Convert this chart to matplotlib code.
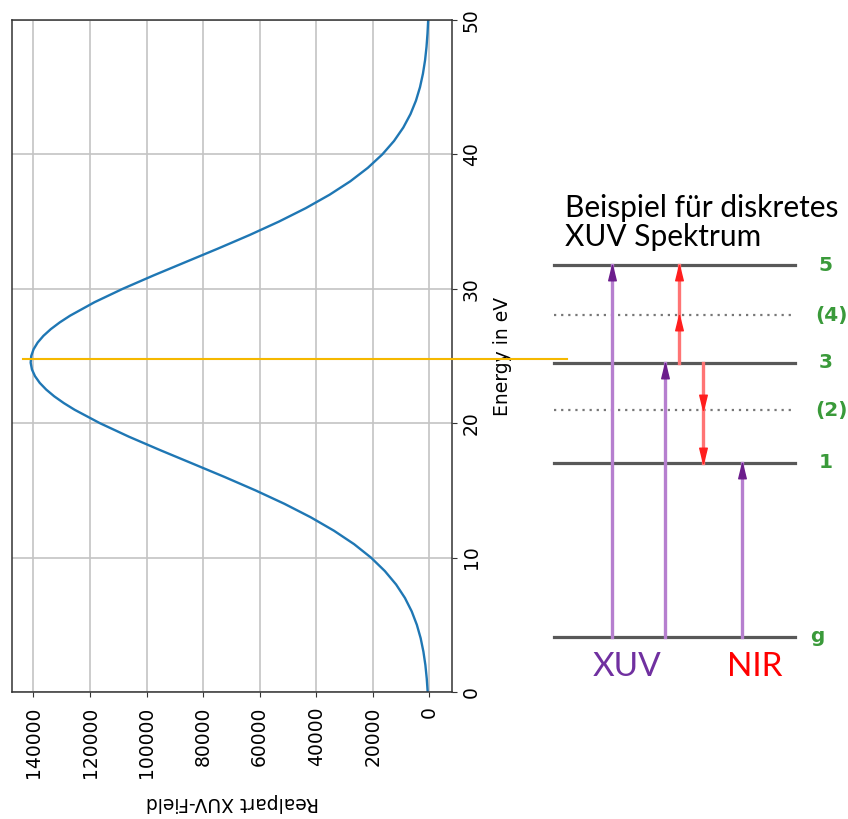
import numpy as np
import matplotlib
matplotlib.use("Agg")
import matplotlib.pyplot as plt
from matplotlib.transforms import blended_transform_factory

# Real part of the XUV field against photon energy (1 eV steps, 0.5 eV near the peak)
energy_ev = [
    0, 1, 2, 3, 4, 5, 6, 7, 8, 9,
    10, 11, 12, 13, 14, 15, 16, 17, 18, 19,
    20, 21, 21.5, 22, 22.5, 23, 23.5, 24, 24.5, 25,
    25.5, 26, 26.5, 27, 27.5, 28, 29,
    30, 31, 32, 33, 34, 35, 36, 37, 38, 39,
    40, 41, 42, 43, 44, 45, 46, 47, 48, 49,
    50,
]
field_real = [
    600, 930, 1410, 2110, 3080, 4430, 6250, 8650, 11770, 15750,
    20650, 26620, 33740, 41960, 51240, 61480, 72430, 83810, 95250, 106300,
    116500, 125460, 129300, 132670, 135500, 137790, 139470, 140550, 141000, 140800,
    139970, 138530, 136490, 133870, 130710, 127060, 118440,
    108430, 97490, 86090, 74670, 63600, 53210, 43720, 35290, 27960, 21770,
    16640, 12500, 9220, 6680, 4750, 3320, 2280, 1530, 1015, 660,
    420,
]
field_ticks = [0, 20000, 40000, 60000, 80000, 100000, 120000, 140000]
energy_ticks = [0, 10, 20, 30, 40, 50]
marker_energy = 24.8

# Level scheme drawn on the same energy scale
level_names = ["g", "1", "(2)", "3", "(4)", "5"]
level_energy = [4.1, 17.06, 20.98, 24.5, 28.05, 31.77]
level_dotted = [False, False, True, False, True, False]

# purple transitions: (x position, start level, end level)
xuv_arrows = [(0.233, "g", "5"), (0.406, "g", "3"), (0.655, "g", "1")]
# red NIR couplings: (x position, start level, middle level, end level)
nir_arrows = [(0.452, "3", "(4)", "5"), (0.530, "3", "(2)", "1")]

W, H = 848, 819
fig = plt.figure(figsize=(W / 100, H / 100), dpi=100)

ax = fig.add_axes([12 / W, 1 - 692 / H, 440 / W, 672 / H])
ax.plot(field_real, energy_ev, color="#1f77b4", lw=1.7)
ax.set_xlim(147600, -8000)
ax.set_ylim(0, 50)
ax.set_xticks(field_ticks)
ax.set_yticks(energy_ticks)
ax.grid(True, color="#c4c4c4", lw=1.2)
ax.yaxis.tick_right()
ax.yaxis.set_label_position("right")
ax.tick_params(axis="x", labelrotation=90, labelsize=13.5, color="#333333",
               pad=7)
ax.tick_params(axis="y", labelrotation=90, labelsize=13.5, color="#333333")
for lbl in ax.get_yticklabels():
    lbl.set_verticalalignment("center")
for sp in ax.spines.values():
    sp.set_color("#333333")
    sp.set_linewidth(1.1)
ax.set_xlabel("Realpart XUV-Field", rotation=180, fontsize=13.5, labelpad=11)
ax.set_ylabel("Energy in eV", fontsize=13.5, labelpad=9)

# orange marker line running from the spectrum into the level scheme
trans = blended_transform_factory(fig.transFigure, ax.transData)
ax.plot([23 / W, 567 / W], [marker_energy, marker_energy], color="#f5b800",
        lw=1.5, transform=trans, clip_on=False, zorder=5)

# level scheme
ax2 = fig.add_axes([540 / W, 1 - 692 / H, 308 / W, 672 / H])
ax2.set_xlim(0, 1)
ax2.set_ylim(0, 50)
ax2.axis("off")

lev = dict(zip(level_names, level_energy))
for name, e, dotted in zip(level_names, level_energy, level_dotted):
    if dotted:
        ax2.plot([0.045, 0.828], [e, e], color="#777777", lw=1.6,
                 linestyle=(0, (1, 2.2)))
    else:
        ax2.plot([0.045, 0.828], [e, e], color="#585858", lw=2.3)
    if name == "g":
        xl = 0.90
    elif name.startswith("("):
        xl = 0.945
    else:
        xl = 0.927
    ax2.text(xl, e, name, color="#3a9a3a", fontsize=14.5, fontweight="bold",
             ha="center", va="center", family="DejaVu Sans")

# arrow head with its tip at the marker position
up_head = [(0, 0), (-0.42, -1.7), (0.42, -1.7), (0, 0)]
down_head = [(0, 0), (-0.42, 1.7), (0.42, 1.7), (0, 0)]

for x, a, b in xuv_arrows:
    ax2.plot([x, x], [lev[a], lev[b]], color="#b67fcf", lw=2.4, zorder=3)
    ax2.plot([x], [lev[b]], marker=up_head, markersize=22,
             color="#6c1d8c", zorder=4)

for x, a, m, b in nir_arrows:
    ax2.plot([x, x], [lev[a], lev[b]], color="#ff7474", lw=2.4, zorder=3)
    head = up_head if lev[b] > lev[a] else down_head
    for e in (lev[m], lev[b]):
        ax2.plot([x], [e], marker=head, markersize=22, color="#ff1e1e",
                 zorder=4)

ax2.text(0.081, 37.05, "Beispiel für diskretes\nXUV Spektrum", fontsize=21.5,
         family="Lato", va="top", ha="left", linespacing=1.05)
ax2.text(0.282, 1.86, "XUV", color="#7030a0", fontsize=24, family="Lato",
         ha="center", va="center")
ax2.text(0.698, 1.86, "NIR", color="#ff0000", fontsize=24, family="Lato",
         ha="center", va="center")

fig.savefig("out.png", dpi=100)
